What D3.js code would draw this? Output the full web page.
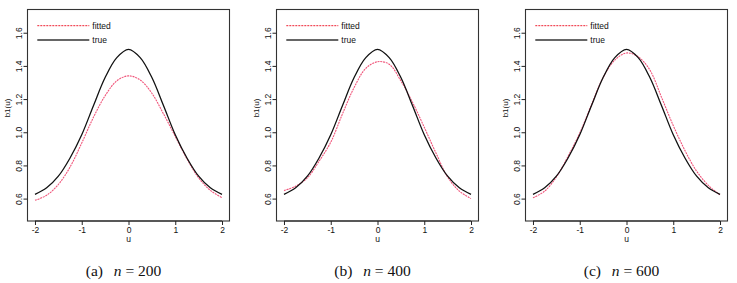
<!DOCTYPE html>
<html>
<head>
<meta charset="utf-8">
<script src="https://cdn.jsdelivr.net/npm/d3@7"></script>
<style>
  html, body { margin: 0; padding: 0; background: #fff; }
  svg { display: block; }
</style>
</head>
<body>
<svg id="chart" width="737" height="283"></svg>
<script>
// ---- data ----
const uGrid = [-2, -1.75, -1.5, -1.25, -1, -0.75, -0.5, -0.25, 0, 0.25, 0.5, 0.75, 1, 1.25, 1.5, 1.75, 2];
const trueVals = [0.625, 0.665, 0.735, 0.845, 0.985, 1.16, 1.33, 1.45, 1.50, 1.45, 1.33, 1.16, 0.985, 0.845, 0.735, 0.665, 0.625];
const fitted200 = [0.59, 0.62, 0.685, 0.79, 0.935, 1.09, 1.22, 1.31, 1.34, 1.315, 1.235, 1.11, 0.975, 0.84, 0.725, 0.65, 0.605];
const fitted400 = [0.648, 0.675, 0.725, 0.825, 0.94, 1.11, 1.27, 1.385, 1.425, 1.41, 1.31, 1.18, 1.03, 0.875, 0.73, 0.645, 0.60];
const fitted600 = [0.605, 0.645, 0.73, 0.855, 0.995, 1.165, 1.33, 1.435, 1.478, 1.455, 1.375, 1.21, 1.04, 0.89, 0.765, 0.68, 0.622];
const xTicks = [-2, -1, 0, 1, 2];
const yTicks = [0.6, 0.8, 1.0, 1.2, 1.4, 1.6];
const captionLetters = ["(a)", "(b)", "(c)"];
const sampleSizes = [200, 400, 600];
const fittedSeries = [fitted200, fitted400, fitted600];
const legendLabels = ["fitted", "true"];
const xLabel = "u";
const yLabel = "b1(u)";

// ---- layout ----
const svg = d3.select("#chart");
const panelLefts = [27.5, 276.5, 525.5];
const boxW = 202, boxTop = 9.5, boxBottom = 221;
const sans = "'Liberation Sans', Arial, Helvetica, sans-serif";
const serif = "'Liberation Serif', 'Times New Roman', serif";

panelLefts.forEach((left, i) => {
  const g = svg.append("g");
  const x = d3.scaleLinear().domain([-2.16, 2.16]).range([left, left + boxW]);
  const y = d3.scaleLinear().domain([0.465, 1.74]).range([boxBottom, boxTop]);

  // curves
  const line = d3.line()
    .x(d => x(d[0])).y(d => y(d[1]))
    .curve(d3.curveCatmullRom.alpha(0.5));

  g.append("path")
    .datum(uGrid.map((u, k) => [u, fittedSeries[i][k]]))
    .attr("d", line)
    .attr("fill", "none")
    .attr("stroke", "#f0557a")
    .attr("stroke-width", 1.1)
    .attr("stroke-dasharray", "2,0.8");

  g.append("path")
    .datum(uGrid.map((u, k) => [u, trueVals[k]]))
    .attr("d", line)
    .attr("fill", "none")
    .attr("stroke", "#111")
    .attr("stroke-width", 1.3);

  // box
  g.append("rect")
    .attr("x", left).attr("y", boxTop)
    .attr("width", boxW).attr("height", boxBottom - boxTop)
    .attr("fill", "none").attr("stroke", "#333").attr("stroke-width", 1.1);

  // x axis
  const xa = g.append("g")
    .attr("transform", `translate(0,${boxBottom})`)
    .call(d3.axisBottom(x).tickValues(xTicks).tickSize(4).tickPadding(2).tickFormat(d3.format("d")));
  xa.select(".domain").remove();
  xa.append("line")
    .attr("x1", x(-2)).attr("x2", x(2)).attr("y1", 0).attr("y2", 0)
    .attr("stroke", "#222").attr("stroke-width", 1.2);
  xa.selectAll("line").attr("stroke", "#222");
  xa.selectAll("text")
    .text(d => String(d))
    .attr("font-family", sans).attr("font-size", 8.5).attr("fill", "#111");

  // y axis
  const ya = g.append("g")
    .attr("transform", `translate(${left},0)`)
    .call(d3.axisLeft(y).tickValues(yTicks).tickSize(4).tickFormat(d3.format(".1f")));
  ya.select(".domain").remove();
  ya.selectAll("line").attr("stroke", "#222");
  ya.selectAll("text")
    .attr("font-family", sans).attr("font-size", 8.5).attr("fill", "#111")
    .attr("x", 0).attr("dy", 0)
    .attr("text-anchor", "middle")
    .attr("transform", "translate(-5.5,0) rotate(-90)");

  // axis titles
  g.append("text")
    .attr("x", x(0)).attr("y", 242)
    .attr("text-anchor", "middle")
    .attr("font-family", sans).attr("font-size", 8.5).attr("fill", "#111")
    .text(xLabel);
  g.append("text")
    .attr("transform", `translate(${left - 17.5},108) rotate(-90)`)
    .attr("text-anchor", "middle")
    .attr("font-family", sans).attr("font-size", 8).attr("fill", "#111")
    .text(yLabel);

  // legend
  const lx = left + 9.8;
  const legendY = [25.7, 40];
  g.append("line")
    .attr("x1", lx).attr("x2", lx + 52).attr("y1", legendY[0]).attr("y2", legendY[0])
    .attr("stroke", "#ee2233").attr("stroke-width", 1).attr("stroke-dasharray", "2,1");
  g.append("line")
    .attr("x1", lx).attr("x2", lx + 52).attr("y1", legendY[1]).attr("y2", legendY[1])
    .attr("stroke", "#333").attr("stroke-width", 1.4);
  legendLabels.forEach((lab, k) => {
    g.append("text")
      .attr("x", lx + 55).attr("y", legendY[k] + 3)
      .attr("font-family", sans).attr("font-size", 8.5).attr("fill", "#111")
      .text(lab);
  });

  // caption
  const cap = g.append("text")
    .attr("x", left + 96).attr("y", 276)
    .attr("text-anchor", "middle")
    .attr("font-family", serif).attr("font-size", 15.5).attr("fill", "#111");
  cap.append("tspan").text(captionLetters[i] + "\u2002\u2009");
  cap.append("tspan").attr("font-style", "italic").text("n");
  cap.append("tspan").text(" = " + sampleSizes[i]);
});
</script>
</body>
</html>
